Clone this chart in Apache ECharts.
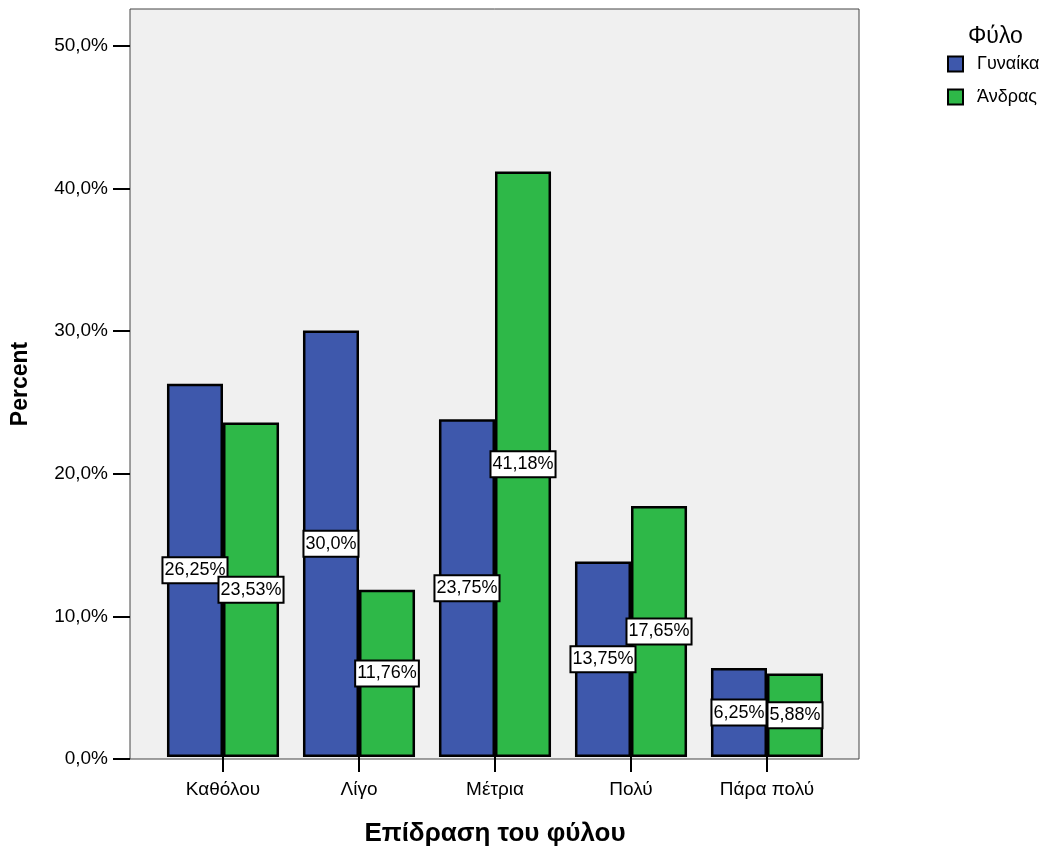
<!DOCTYPE html>
<html>
<head>
<meta charset="utf-8">
<script src="https://cdn.jsdelivr.net/npm/echarts@6/dist/echarts.min.js"></script>
<style>
html,body{margin:0;padding:0;background:#fff;}
#c{width:1054px;height:852px;}
</style>
</head>
<body>
<div id="c"></div>
<script>
const categories = ['Καθόλου', 'Λίγο', 'Μέτρια', 'Πολύ', 'Πάρα πολύ'];
const womenValues = [26.25, 30.0, 23.75, 13.75, 6.25];
const menValues = [23.53, 11.76, 41.18, 17.65, 5.88];
const yTicks = [0, 10, 20, 30, 40, 50];
const seriesNames = ['Γυναίκα', 'Άνδρας'];
const legendTitle = 'Φύλο';
const xTitle = 'Επίδραση του φύλου';
const yTitle = 'Percent';

const FONT = '"Liberation Sans", Arial, sans-serif';
const yMax = 52.6;

function pct(v) {
  let s = String(v);
  if (s.indexOf('.') < 0) s += '.0';
  return s.replace('.', ',') + '%';
}

const labelStyle = {
  show: true,
  position: 'inside',
  formatter: p => pct(p.value),
  backgroundColor: '#ffffff',
  borderColor: '#000000',
  borderWidth: 2,
  padding: [4, 1, 2, 1],
  fontFamily: FONT,
  fontSize: 18,
  color: '#000000'
};

const chart = echarts.init(document.getElementById('c'), null, {renderer: 'canvas'});
chart.setOption({
  animation: false,
  backgroundColor: '#ffffff',
  textStyle: {fontFamily: FONT},
  title: {
    text: legendTitle,
    left: 968, top: 25, padding: 0,
    textStyle: {fontFamily: FONT, fontSize: 23, fontWeight: 'normal', color: '#000'}
  },
  legend: {
    orient: 'vertical',
    left: 947, top: 55, padding: 0,
    itemWidth: 15, itemHeight: 15, itemGap: 15,
    icon: 'rect',
    data: seriesNames,
    textStyle: {fontFamily: FONT, fontSize: 18, color: '#000', padding: [0, 0, 0, 9]},
    itemStyle: {borderColor: '#000', borderWidth: 2}
  },
  grid: [
    {left: 130, right: 195, top: 9, bottom: 93, show: true,
     backgroundColor: '#F0F0F0', borderColor: '#444444', borderWidth: 1},
    {left: 155, right: 219, top: 9, bottom: 93}
  ],
  xAxis: [
    {gridIndex: 0, type: 'value', show: false, min: 0, max: 1},
    {gridIndex: 1, type: 'category', data: categories,
     axisLine: {show: false},
     axisTick: {show: true, alignWithLabel: true, length: 15, lineStyle: {color: '#000', width: 2}},
     axisLabel: {margin: 23, fontFamily: FONT, fontSize: 19, color: '#000'},
     name: xTitle, nameLocation: 'middle', nameGap: 64,
     nameTextStyle: {fontFamily: FONT, fontSize: 26, fontWeight: 'bold', color: '#000'}},
  ],
  yAxis: [
    {gridIndex: 0, type: 'value', min: 0, max: yMax,
     axisLine: {show: false},
     splitLine: {show: false},
     axisTick: {show: true, customValues: yTicks, length: 17, lineStyle: {color: '#000', width: 2}},
     axisLabel: {customValues: yTicks, margin: 22, fontFamily: FONT, fontSize: 19, color: '#000',
                 formatter: v => v.toFixed(1).replace('.', ',') + '%'},
     name: yTitle, nameLocation: 'middle', nameGap: 98,
     nameTextStyle: {fontFamily: FONT, fontSize: 23, fontWeight: 'bold', color: '#000'}},
    {gridIndex: 1, type: 'value', min: 0, max: yMax, show: false, splitLine: {show: false}}
  ],
  series: [
    {name: seriesNames[0], type: 'bar', xAxisIndex: 1, yAxisIndex: 1, data: womenValues,
     barGap: '0%', barCategoryGap: '17.6%',
     itemStyle: {color: '#3E58AC', borderColor: '#000', borderWidth: 2.5},
     label: labelStyle},
    {name: seriesNames[1], type: 'bar', xAxisIndex: 1, yAxisIndex: 1, data: menValues,
     barGap: '0%', barCategoryGap: '17.6%',
     itemStyle: {color: '#2EB848', borderColor: '#000', borderWidth: 2.5},
     label: labelStyle}
  ]
});
</script>
</body>
</html>
